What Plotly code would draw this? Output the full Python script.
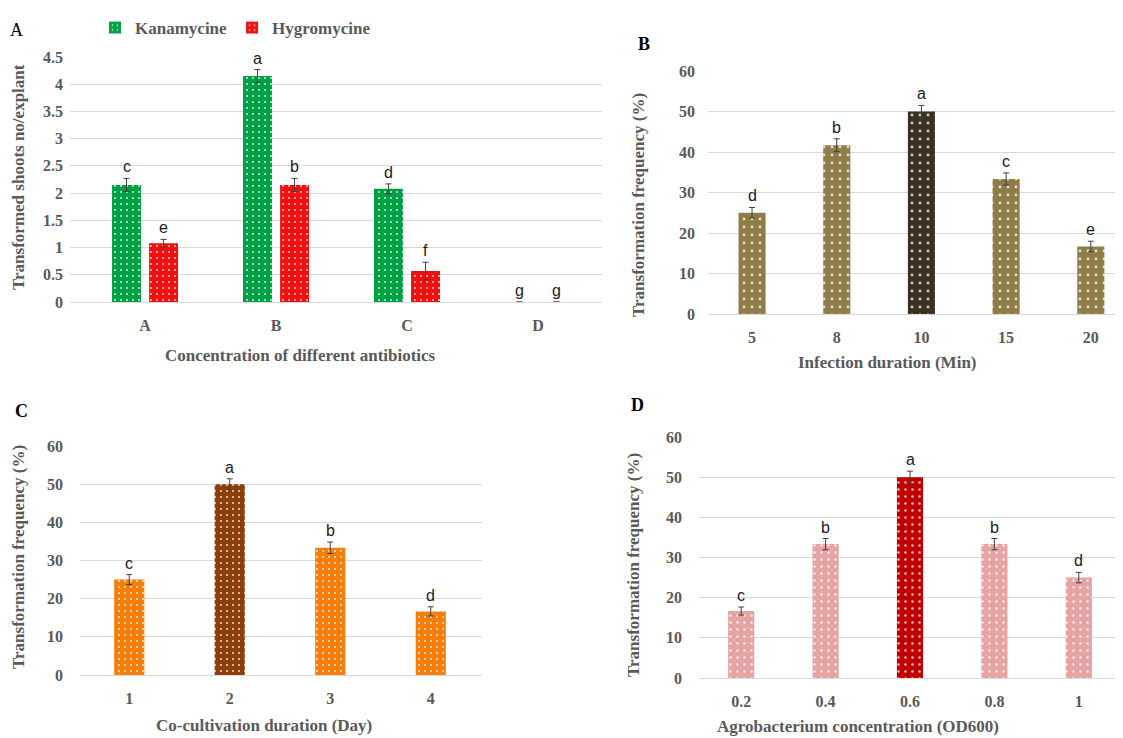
import plotly.graph_objects as go

# The page body has an 8px margin, so the figure is sized to fit the window
OFF = 8
W, H = 1123 - OFF, 738 - OFF

# ---------------- data ----------------
a_categories = ["A", "B", "C", "D"]
a_kanamycine = [2.15, 4.15, 2.08, 0.0]
a_kanamycine_err = [0.12, 0.12, 0.09, 0.0]
a_kanamycine_letters = ["c", "a", "d", "g"]
a_hygromycine = [1.08, 2.15, 0.57, 0.0]
a_hygromycine_err = [0.07, 0.12, 0.16, 0.0]
a_hygromycine_letters = ["e", "b", "f", "g"]

b_categories = ["5", "8", "10", "15", "20"]
b_values = [25.0, 41.67, 50.0, 33.33, 16.67]
b_err = [1.3, 1.6, 1.5, 1.5, 1.3]
b_letters = ["d", "b", "a", "c", "e"]

c_categories = ["1", "2", "3", "4"]
c_values = [25.0, 50.0, 33.33, 16.67]
c_err = [1.3, 1.4, 1.5, 1.2]
c_letters = ["c", "a", "b", "d"]

d_categories = ["0.2", "0.4", "0.6", "0.8", "1"]
d_values = [16.67, 33.33, 50.0, 33.33, 25.0]
d_err = [1.0, 1.4, 1.5, 1.4, 1.3]
d_letters = ["c", "b", "a", "b", "d"]

# ---------------- style ----------------
SERIF = "Liberation Serif"
SANS = "Liberation Sans"
GRAY = "#595959"
GRID = "#d9d9d9"
ERR = "#404040"

GREEN = "#00a045"
RED = "#f01010"
OLIVE = "#8e7d47"
OLIVE_DARK = "#3b3222"
ORANGE = "#f57d0a"
BROWN = "#8b3f0a"
PINK = "#e6a3a3"
DARKRED = "#c00000"


def px_x(p):
    return (p - OFF) / W


def px_y(p):
    return 1 - (p - OFF) / H


def pattern(size=6):
    return dict(shape=".", fillmode="overlay", fgcolor="#ffffff",
                fgopacity=0.75, size=size, solidity=0.1)


def errs(vals):
    return [v if v > 0 else None for v in vals]


fig = go.Figure()

# ---- Panel A ----
wA = 0.221
offK, offH = -0.252, 0.031
xs_a = list(range(len(a_categories)))
fig.add_trace(go.Bar(
    x=xs_a, y=a_kanamycine, name="Kanamycine", width=wA, offset=offK,
    marker=dict(color=GREEN, line=dict(width=0), pattern=pattern(6)),
    error_y=dict(type="data", array=errs(a_kanamycine_err), color=ERR, thickness=1, width=3),
    xaxis="x", yaxis="y", showlegend=True))
fig.add_trace(go.Bar(
    x=xs_a, y=a_hygromycine, name="Hygromycine", width=wA, offset=offH,
    marker=dict(color=RED, line=dict(width=0), pattern=pattern(6)),
    error_y=dict(type="data", array=errs(a_hygromycine_err), color=ERR, thickness=1, width=3),
    xaxis="x", yaxis="y", showlegend=True))


def single_panel(cats, vals, err, base, hi, width, size, xa, ya):
    xs = list(range(len(cats)))
    top = max(vals)
    for color, keep in ((base, lambda v: v != top), (hi, lambda v: v == top)):
        fig.add_trace(go.Bar(
            x=xs, y=[v if keep(v) else None for v in vals], width=width,
            marker=dict(color=color, line=dict(width=0), pattern=pattern(size)),
            error_y=dict(type="data", array=[e if keep(v) else None for v, e in zip(vals, err)],
                         color=ERR, thickness=1, width=3),
            xaxis=xa, yaxis=ya, showlegend=False))
    return xs


xs_b = single_panel(b_categories, b_values, b_err, OLIVE, OLIVE_DARK, 0.32, 8, "x2", "y2")
xs_c = single_panel(c_categories, c_values, c_err, ORANGE, BROWN, 0.30, 6, "x3", "y3")
xs_d = single_panel(d_categories, d_values, d_err, PINK, DARKRED, 0.31, 7, "x4", "y4")

tickfont = dict(family=SERIF, size=16, color=GRAY, weight="bold")


def xaxis(domain, rng, cats, anchor):
    return dict(domain=domain, range=rng, anchor=anchor,
                tickmode="array", tickvals=list(range(len(cats))), ticktext=cats,
                showgrid=False, zeroline=False, showline=False, ticks="",
                tickfont=tickfont, ticklabelstandoff=12, fixedrange=True,
                automargin=False)


def yaxis(domain, rng, dtick, anchor, standoff):
    return dict(domain=domain, range=rng, anchor=anchor, dtick=dtick,
                showgrid=True, gridcolor=GRID, gridwidth=1,
                zeroline=True, zerolinecolor=GRID, zerolinewidth=1,
                showline=False, ticks="", tickfont=tickfont,
                ticklabelstandoff=standoff, fixedrange=True, automargin=False)


layout = dict(
    width=W, height=H,
    margin=dict(l=0, r=0, t=0, b=0, pad=0, autoexpand=False),
    paper_bgcolor="white", plot_bgcolor="white",
    barmode="overlay",
    xaxis=xaxis([px_x(70), px_x(602)], [-0.573, 3.489], a_categories, "y"),
    yaxis=yaxis([px_y(302), px_y(57)], [0, 4.5], 0.5, "x", 6),
    xaxis2=xaxis([px_x(708), 1.0], [-0.52, 4.38], b_categories, "y2"),
    yaxis2=yaxis([px_y(314), px_y(71)], [0, 60], 10, "x2", 12),
    xaxis3=xaxis([px_x(80), px_x(482)], [-0.49, 3.51], c_categories, "y3"),
    yaxis3=yaxis([px_y(675), px_y(446)], [0, 60], 10, "x3", 16),
    xaxis4=xaxis([px_x(699), px_x(1121)], [-0.5, 4.5], d_categories, "y4"),
    yaxis4=yaxis([px_y(678), px_y(437)], [0, 60], 10, "x4", 16),
    legend=dict(orientation="h", x=px_x(95), y=px_y(10), xanchor="left", yanchor="top",
                font=dict(family=SERIF, size=17, color=GRAY, weight="bold"), itemwidth=30,
                bgcolor="rgba(0,0,0,0)", tracegroupgap=0),
)
fig.update_layout(**layout)

ann = []


def letters(xs, vals, es, labs, xref, yref, shift=0.0):
    for x, v, e, l in zip(xs, vals, es, labs):
        ann.append(dict(x=x + shift, y=v + e, xref=xref, yref=yref, text=l,
                        showarrow=False, yanchor="bottom", yshift=1,
                        font=dict(family=SANS, size=16, color="#1a1a1a")))


letters(xs_a, a_kanamycine, a_kanamycine_err, a_kanamycine_letters, "x", "y", offK + wA / 2)
letters(xs_a, a_hygromycine, a_hygromycine_err, a_hygromycine_letters, "x", "y", offH + wA / 2)
letters(xs_b, b_values, b_err, b_letters, "x2", "y2")
letters(xs_c, c_values, c_err, c_letters, "x3", "y3")
letters(xs_d, d_values, d_err, d_letters, "x4", "y4")

# panel labels
for txt, x, y, bold in [("A", 16, 30, False), ("B", 644, 44, True),
                        ("C", 21, 411, True), ("D", 637, 405, True)]:
    ann.append(dict(x=px_x(x), y=px_y(y), xref="paper", yref="paper",
                    text=f"<b>{txt}</b>" if bold else txt, showarrow=False,
                    xanchor="center", yanchor="middle",
                    font=dict(family=SERIF, size=18, color="black")))

# axis titles
title_font = dict(family=SERIF, size=17, color=GRAY)
for txt, x, y in [("Concentration of different antibiotics", 300, 355),
                  ("Infection duration (Min)", 888, 362),
                  ("Co-cultivation duration (Day)", 264, 725),
                  ("Agrobacterium concentration (OD600)", 858, 726)]:
    ann.append(dict(x=px_x(x), y=px_y(y), xref="paper", yref="paper",
                    text=f"<b>{txt}</b>", showarrow=False,
                    xanchor="center", yanchor="middle", font=title_font))

for txt, x, y in [("Transformed shoots no/explant", 18, 177),
                  ("Transformation frequency (%)", 638, 205),
                  ("Transformation frequency (%)", 18, 557),
                  ("Transformation frequency (%)", 633, 565)]:
    ann.append(dict(x=px_x(x), y=px_y(y), xref="paper", yref="paper",
                    text=f"<b>{txt}</b>", showarrow=False, textangle=-90,
                    xanchor="center", yanchor="middle", font=title_font))

fig.update_layout(annotations=ann)

fig.write_html("out.html")
